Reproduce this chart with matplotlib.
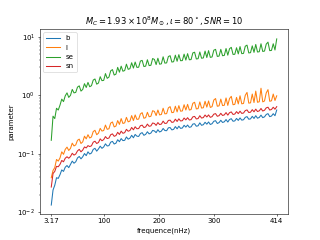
import numpy as np
import matplotlib
matplotlib.use('Agg')
import matplotlib.pyplot as plt

# frequency grid (nHz), 130 bins from 1/T up to the max frequency
F_MIN = 3.17
F_MAX = 414
N_BINS = 130
freq = np.linspace(F_MIN, F_MAX, N_BINS)

xticks = [3.17, 100, 200, 300, 414]
xtick_labels = ['3.17', '100', '200', '300', '414']

b = [0.0133, 0.024, 0.029, 0.039, 0.038, 0.044, 0.053, 0.050, 0.059, 0.063,
     0.058, 0.066, 0.075, 0.069, 0.073, 0.085, 0.090, 0.082, 0.089, 0.101,
     0.093, 0.108, 0.099, 0.103, 0.119, 0.124, 0.111, 0.121, 0.135, 0.124,
     0.131, 0.148, 0.136, 0.138, 0.158, 0.163, 0.147, 0.152, 0.174, 0.161,
     0.182, 0.168, 0.170, 0.194, 0.178, 0.185, 0.207, 0.188, 0.214, 0.200,
     0.198, 0.222, 0.230, 0.207, 0.215, 0.238, 0.219, 0.226, 0.251, 0.246,
     0.230, 0.258, 0.236, 0.244, 0.271, 0.250, 0.248, 0.278, 0.281, 0.256,
     0.262, 0.292, 0.267, 0.296, 0.272, 0.276, 0.307, 0.286, 0.310, 0.283,
     0.289, 0.322, 0.327, 0.296, 0.301, 0.338, 0.307, 0.314, 0.346, 0.321,
     0.350, 0.317, 0.327, 0.360, 0.368, 0.330, 0.341, 0.374, 0.343, 0.352,
     0.385, 0.349, 0.386, 0.398, 0.360, 0.365, 0.402, 0.372, 0.410, 0.376,
     0.382, 0.420, 0.432, 0.390, 0.395, 0.437, 0.402, 0.448, 0.406, 0.418,
     0.458, 0.415, 0.428, 0.470, 0.486, 0.432, 0.442, 0.485, 0.448, 0.56]

l = [0.039, 0.052, 0.058, 0.080, 0.075, 0.085, 0.108, 0.098, 0.119, 0.130,
     0.114, 0.124, 0.152, 0.136, 0.142, 0.170, 0.178, 0.150, 0.160, 0.200,
     0.180, 0.212, 0.186, 0.194, 0.240, 0.252, 0.212, 0.225, 0.272, 0.245,
     0.250, 0.310, 0.262, 0.268, 0.335, 0.350, 0.288, 0.298, 0.370, 0.318,
     0.400, 0.330, 0.338, 0.420, 0.352, 0.362, 0.450, 0.370, 0.462, 0.388,
     0.392, 0.480, 0.505, 0.405, 0.415, 0.512, 0.430, 0.438, 0.545, 0.530,
     0.450, 0.560, 0.462, 0.470, 0.600, 0.482, 0.486, 0.610, 0.640, 0.505,
     0.512, 0.650, 0.520, 0.665, 0.535, 0.540, 0.690, 0.560, 0.700, 0.560,
     0.570, 0.730, 0.760, 0.585, 0.592, 0.770, 0.605, 0.612, 0.790, 0.628,
     0.800, 0.620, 0.640, 0.830, 0.880, 0.650, 0.660, 0.860, 0.668, 0.675,
     0.900, 0.672, 0.880, 0.960, 0.690, 0.700, 0.920, 0.712, 0.980, 0.715,
     0.725, 1.000, 1.120, 0.735, 0.742, 1.050, 0.752, 1.180, 0.760, 0.775,
     1.320, 0.772, 0.800, 1.100, 1.250, 0.790, 0.805, 1.050, 0.815, 0.98]

se = [0.17, 0.44, 0.40, 0.60, 0.56, 0.68, 0.86, 0.78, 0.98, 1.10,
      0.92, 1.00, 1.26, 1.10, 1.12, 1.38, 1.45, 1.18, 1.26, 1.58,
      1.36, 1.66, 1.40, 1.46, 1.82, 1.90, 1.55, 1.62, 2.08, 1.78,
      1.80, 2.35, 1.95, 2.05, 2.62, 2.75, 2.22, 2.30, 3.00, 2.48,
      3.15, 2.58, 2.65, 3.40, 2.78, 2.85, 3.60, 2.92, 3.70, 3.00,
      3.02, 3.85, 3.95, 3.10, 3.15, 4.05, 3.22, 3.26, 4.25, 4.10,
      3.35, 4.30, 3.40, 3.45, 4.55, 3.55, 3.58, 4.60, 4.75, 3.70,
      3.75, 4.85, 3.82, 4.95, 3.90, 3.92, 5.05, 4.00, 5.15, 4.05,
      4.08, 5.30, 5.45, 4.18, 4.22, 5.50, 4.30, 4.35, 5.70, 4.42,
      5.80, 4.45, 4.52, 5.90, 6.10, 4.62, 4.68, 6.10, 4.75, 4.80,
      6.30, 4.85, 6.25, 6.60, 5.00, 5.02, 6.50, 5.10, 6.80, 5.15,
      5.20, 6.90, 7.20, 5.30, 5.35, 7.00, 5.42, 7.40, 5.50, 5.55,
      7.60, 5.62, 5.70, 7.50, 8.10, 5.80, 5.85, 7.60, 5.95, 9.2]

sn = [0.027, 0.046, 0.050, 0.061, 0.060, 0.066, 0.077, 0.073, 0.084, 0.089,
      0.084, 0.090, 0.102, 0.095, 0.099, 0.112, 0.119, 0.108, 0.116, 0.131,
      0.126, 0.138, 0.133, 0.137, 0.158, 0.164, 0.150, 0.156, 0.180, 0.167,
      0.175, 0.197, 0.182, 0.186, 0.212, 0.219, 0.199, 0.205, 0.233, 0.214,
      0.244, 0.224, 0.230, 0.262, 0.243, 0.250, 0.282, 0.257, 0.290, 0.268,
      0.270, 0.302, 0.309, 0.281, 0.288, 0.322, 0.295, 0.300, 0.336, 0.330,
      0.306, 0.342, 0.316, 0.322, 0.362, 0.330, 0.333, 0.372, 0.376, 0.344,
      0.350, 0.391, 0.357, 0.396, 0.364, 0.368, 0.409, 0.380, 0.414, 0.378,
      0.384, 0.428, 0.436, 0.394, 0.400, 0.448, 0.408, 0.416, 0.460, 0.426,
      0.462, 0.420, 0.432, 0.476, 0.486, 0.438, 0.448, 0.492, 0.452, 0.462,
      0.506, 0.458, 0.505, 0.520, 0.470, 0.478, 0.526, 0.486, 0.535, 0.490,
      0.498, 0.548, 0.562, 0.508, 0.514, 0.568, 0.522, 0.580, 0.528, 0.542,
      0.595, 0.538, 0.555, 0.610, 0.625, 0.560, 0.572, 0.625, 0.578, 0.64]

series = [('b', b), ('l', l), ('se', se), ('sn', sn)]

fig, ax = plt.subplots(figsize=(6.4, 4.8), dpi=50)
for label, vals in series:
    ax.plot(freq, vals, label=label)

ax.set_yscale('log')
ax.set_ylim(0.0095, 13.7)
ax.set_xticks(xticks)
ax.set_xticklabels(xtick_labels)
ax.set_xlabel('frequence(nHz)')
ax.set_ylabel('parameter')
ax.set_title(r'$M_C=1.93\times10^8M_\odot,\iota=80^\circ,SNR=10$')
ax.legend(loc='upper left')
plt.savefig('out.png')
